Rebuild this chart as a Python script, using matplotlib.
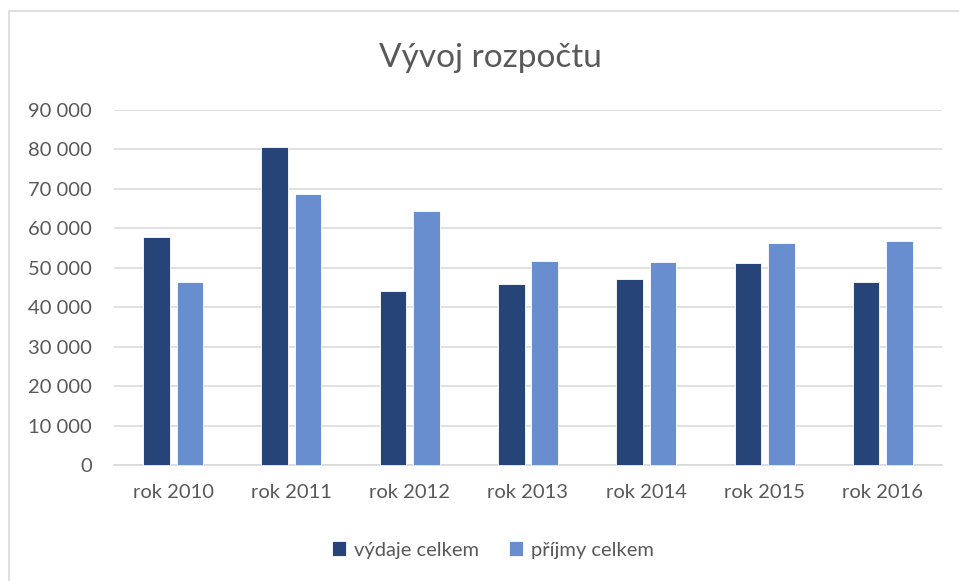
import matplotlib.pyplot as plt
import numpy as np
from matplotlib.patches import Rectangle

# data
years = ["rok 2010", "rok 2011", "rok 2012", "rok 2013", "rok 2014", "rok 2015", "rok 2016"]
vydaje = [57900, 80700, 44000, 45900, 47200, 51100, 46300]
prijmy = [46500, 68700, 64400, 51800, 51400, 56300, 56700]
yticks = [0, 10000, 20000, 30000, 40000, 50000, 60000, 70000, 80000, 90000]

dark = "#264478"
light = "#698ED0"
grey = "#595959"

plt.rcParams['font.family'] = ['Lato', 'DejaVu Sans']

fig = plt.figure(figsize=(9.59, 5.81), dpi=100)
ax = fig.add_axes([114 / 959, 1 - 465 / 581, (942 - 114) / 959, (465 - 110) / 581])

x = np.arange(len(years))
w = 0.225
ax.bar(x - 0.141, vydaje, width=w, color=dark, edgecolor="white", linewidth=0.6, label="výdaje celkem", zorder=3)
ax.bar(x + 0.141, prijmy, width=w, color=light, edgecolor="white", linewidth=0.6, label="příjmy celkem", zorder=3)

ax.set_xlim(-0.5, len(years) - 0.5)
ax.set_ylim(0, 90000)
ax.set_yticks(yticks)
ax.set_yticklabels([f"{v:,}".replace(",", " ") for v in yticks])
ax.set_xticks(x)
ax.set_xticklabels(years)
ax.tick_params(axis="y", length=0, pad=16, labelsize=14.5, labelcolor=grey)
ax.tick_params(axis="x", length=0, pad=14, labelsize=14.5, labelcolor=grey)
ax.yaxis.grid(True, color="#d9d9d9", linewidth=1.1, zorder=0)
for s in ["top", "right", "left"]:
    ax.spines[s].set_visible(False)
ax.spines["bottom"].set_color("#d9d9d9")
ax.spines["bottom"].set_linewidth(1.1)

fig.text(0.511, 1 - 58 / 581, "Vývoj rozpočtu", ha="center", va="center", fontsize=24, color=grey)

fig.legend(loc="center", bbox_to_anchor=(0.514, 1 - 550 / 581), ncol=2, frameon=False,
           fontsize=14.5, labelcolor=grey, handlelength=0.7, handleheight=0.7,
           handletextpad=0.4, columnspacing=1.5)

# chart frame (light grey border, runs off the right and bottom)
fig.patches.append(Rectangle((9 / 959, -0.1), 2, 1.1 - 11 / 581, transform=fig.transFigure,
                             fill=False, edgecolor="#d9d9d9", linewidth=1.2))

plt.savefig("out.png", dpi=100)
